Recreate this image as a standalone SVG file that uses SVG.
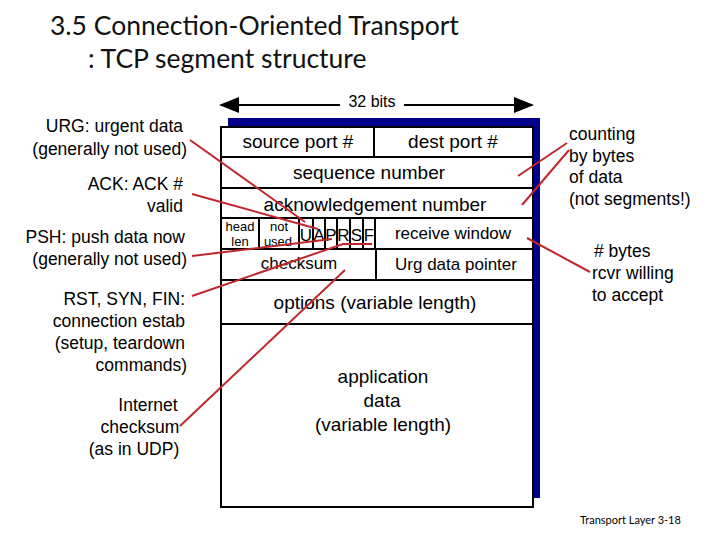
<svg xmlns="http://www.w3.org/2000/svg" width="720" height="540" viewBox="0 0 720 540">
<style>
text{font-family:"Liberation Sans",Arial,sans-serif}
.t{font-size:17.5px;fill:#000}
.f{font-size:19px;fill:#000;text-anchor:middle}
.s{font-size:13px;fill:#000;text-anchor:middle}
.e{text-anchor:end}
.b{stroke:#000;stroke-width:2;fill:none}
.r{stroke:#c0272d;stroke-width:2;fill:none}
</style>
<defs><marker id="ah" markerWidth="10" markerHeight="8" refX="9" refY="4" orient="auto"><path d="M0,0 L10,4 L0,8 z" fill="#000"/></marker></defs>
<rect width="720" height="540" fill="#fff"/>
<g id="title" font-size="26.5" fill="#111">
<text x="50" y="35" style="font-family:Lato,'Open Sans',sans-serif">3.5 Connection-Oriented Transport</text>
<text x="88" y="68" style="font-family:Lato,'Open Sans',sans-serif">: TCP segment structure</text>
</g>
<g id="width">
<line x1="340" y1="105" x2="221" y2="105" stroke="#000" stroke-width="2" marker-end="url(#ah)"/>
<line x1="404" y1="105" x2="532" y2="105" stroke="#000" stroke-width="2" marker-end="url(#ah)"/>
<text x="372" y="107" text-anchor="middle" style="font-size:16px">32 bits</text>
</g>
<g id="segment">
<rect x="228" y="118" width="312" height="380" fill="#00008b"/>
<rect x="221" y="127" width="312" height="380" style="fill:#fff;stroke:#000;stroke-width:2"/>
<path class="b" d="M221,157H533M221,188H533M221,218H533M221,249H533M221,280H533M221,324H533M374,127V157M259,218V249M299,218V249M313,218V249M325,218V249M337,218V249M350,218V249M363,218V249M375,218V249M376,249V280"/>
<text class="f" x="298" y="148">source port #</text>
<text class="f" x="453" y="148">dest port #</text>
<text class="f" x="369" y="179">sequence number</text>
<text class="f" x="375" y="211">acknowledgement number</text>
<text class="s" x="240" y="231">head</text>
<text class="s" x="240" y="246">len</text>
<text class="s" x="279" y="231">not</text>
<text class="s" x="278" y="246">used</text>
<text x="306" y="241" text-anchor="middle" style="font-size:17px">U</text>
<text x="319" y="241" text-anchor="middle" style="font-size:17px">A</text>
<text x="331" y="241" text-anchor="middle" style="font-size:17px">P</text>
<text x="343.5" y="241" text-anchor="middle" style="font-size:17px">R</text>
<text x="356.5" y="241" text-anchor="middle" style="font-size:17px">S</text>
<text x="369" y="241" text-anchor="middle" style="font-size:17px">F</text>
<text class="f" x="453" y="239" style="font-size:17px">receive window</text>
<text class="f" x="299" y="269" style="font-size:17px">checksum</text>
<text class="f" x="456" y="270" style="font-size:17px">Urg data pointer</text>
<text class="f" x="375" y="309">options (variable length)</text>
<text class="f" x="383" y="383">application</text>
<text class="f" x="382" y="407">data</text>
<text class="f" x="383" y="431">(variable length)</text>
</g>
<g id="connectors">
<line class="r" x1="190" y1="140" x2="305" y2="222"/>
<line class="r" x1="192" y1="194" x2="318" y2="229"/>
<line class="r" x1="192" y1="256" x2="332" y2="239"/>
<polyline class="r" points="192,296 343,244 372,244"/>
<line class="r" x1="180" y1="426" x2="345" y2="270"/>
<line class="r" x1="567" y1="143" x2="518" y2="176"/>
<line class="r" x1="569" y1="150" x2="522" y2="205"/>
<line class="r" x1="590" y1="272" x2="527" y2="238"/>
</g>
<g id="left">
<text class="t e" x="183" y="132">URG: urgent data</text>
<text class="t e" x="187" y="155">(generally not used)</text>
<text class="t e" x="183" y="190">ACK: ACK #</text>
<text class="t e" x="183" y="212">valid</text>
<text class="t e" x="185" y="243">PSH: push data now</text>
<text class="t e" x="187" y="265">(generally not used)</text>
<text class="t e" x="185" y="305">RST, SYN, FIN:</text>
<text class="t e" x="185" y="327">connection estab</text>
<text class="t e" x="185" y="349">(setup, teardown</text>
<text class="t e" x="187" y="371">commands)</text>
<text class="t" x="148" y="411" text-anchor="middle">Internet</text>
<text class="t" x="140" y="433" text-anchor="middle">checksum</text>
<text class="t" x="134" y="455" text-anchor="middle">(as in UDP)</text>
</g>
<g id="right">
<text class="t" x="569" y="140">counting</text>
<text class="t" x="569" y="162">by bytes</text>
<text class="t" x="569" y="183">of data</text>
<text class="t" x="569" y="205">(not segments!)</text>
<text class="t" x="594" y="257"># bytes</text>
<text class="t" x="592" y="279">rcvr willing</text>
<text class="t" x="592" y="301">to accept</text>
</g>
<text id="footer" x="580" y="524" font-size="11" fill="#000" style="font-family:Lato,sans-serif">Transport Layer 3-18</text>
</svg>
